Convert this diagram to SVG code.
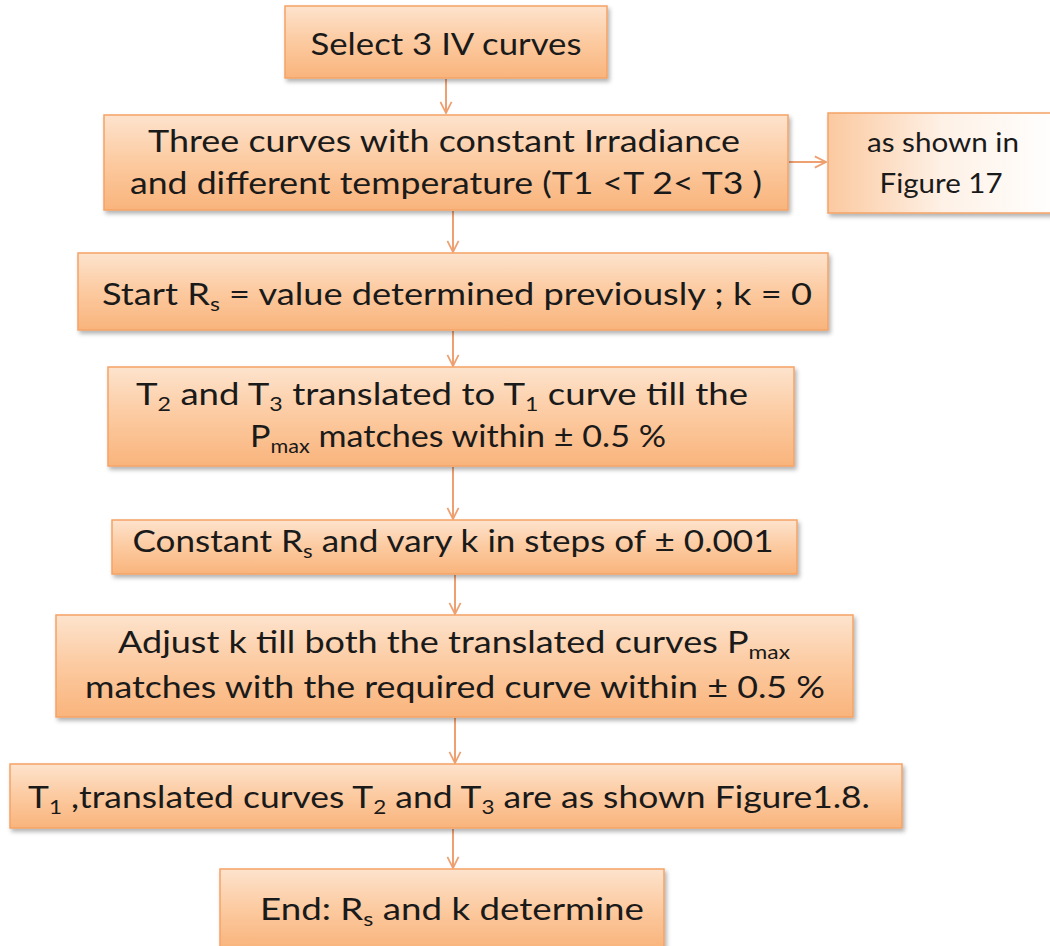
<svg xmlns="http://www.w3.org/2000/svg" width="1050" height="946" viewBox="0 0 1050 946">
<style>
.box{fill:url(#g);stroke:#f5a366;stroke-width:1.5;filter:url(#sh)}
.side{fill:url(#g2);stroke:#f5a366;stroke-width:1.5;filter:url(#sh)}
.t{font-family:Lato,"Open Sans",sans-serif;font-size:30px;fill:#1a1a1a;text-anchor:middle}
.s{font-size:19px}
.c{stroke:#eea070;stroke-width:2;fill:none;marker-end:url(#ah)}
</style>
<defs>
<linearGradient id="g" x1="0" y1="0" x2="0" y2="1">
<stop offset="0" stop-color="#fde3cd"/>
<stop offset="0.5" stop-color="#fccaa0"/>
<stop offset="1" stop-color="#f9b47c"/>
</linearGradient>
<linearGradient id="g2" x1="0" y1="0" x2="1" y2="0">
<stop offset="0" stop-color="#fbc9a0"/>
<stop offset="0.5" stop-color="#fef1e6"/>
<stop offset="1" stop-color="#ffffff"/>
</linearGradient>
<filter id="sh" x="-5%" y="-10%" width="115%" height="130%">
<feDropShadow dx="2" dy="3" stdDeviation="2" flood-color="#000" flood-opacity="0.3"/>
</filter>
<marker id="ah" viewBox="0 0 20 20" refX="18" refY="10" markerWidth="14" markerHeight="14" markerUnits="userSpaceOnUse" orient="auto">
<path d="M2,2 L18,10 L2,18" fill="none" stroke="#eea070" stroke-width="2.5"/>
</marker>
</defs>
<g id="connectors">
<path class="c" d="M446,79 V113"/>
<path class="c" d="M453,211 V252"/>
<path class="c" d="M453,331 V366"/>
<path class="c" d="M453,467 V519"/>
<path class="c" d="M455,575 V614"/>
<path class="c" d="M455,718 V763"/>
<path class="c" d="M453,829 V868"/>
<path class="c" d="M789,162 H826"/>
</g>
<g id="n1"><rect class="box" x="285" y="6" width="322" height="72"/>
<text class="t" x="446" y="55" textLength="271" lengthAdjust="spacingAndGlyphs">Select 3 IV curves</text></g>
<g id="n2"><rect class="box" x="104" y="115" width="684" height="95"/>
<text class="t" x="444" y="152" textLength="592" lengthAdjust="spacingAndGlyphs">Three curves with constant Irradiance</text>
<text class="t" x="446" y="194" textLength="632" lengthAdjust="spacingAndGlyphs">and different temperature (T1 &lt;T 2&lt; T3 )</text></g>
<g id="n3"><rect class="side" x="828" y="113" width="230" height="100"/>
<text class="t" x="943" y="152" style="font-size:26px" textLength="152" lengthAdjust="spacingAndGlyphs">as shown in</text>
<text class="t" x="941" y="193" style="font-size:26px" textLength="123" lengthAdjust="spacingAndGlyphs">Figure 17</text></g>
<g id="n4"><rect class="box" x="78" y="253" width="750" height="77"/>
<text class="t" x="457" y="305" textLength="710" lengthAdjust="spacingAndGlyphs">Start R<tspan class="s" dy="6">s</tspan><tspan dy="-6"> = value determined previously ; k = 0</tspan></text></g>
<g id="n5"><rect class="box" x="108" y="367" width="686" height="99"/>
<text class="t" x="442" y="405" textLength="612" lengthAdjust="spacingAndGlyphs">T<tspan class="s" dy="6">2</tspan><tspan dy="-6"> and T</tspan><tspan class="s" dy="6">3</tspan><tspan dy="-6"> translated to T</tspan><tspan class="s" dy="6">1</tspan><tspan dy="-6"> curve till the</tspan></text>
<text class="t" x="458" y="447" textLength="416" lengthAdjust="spacingAndGlyphs">P<tspan class="s" dy="6">max</tspan><tspan dy="-6"> matches within ± 0.5 %</tspan></text></g>
<g id="n6"><rect class="box" x="112" y="520" width="685" height="54"/>
<text class="t" x="453" y="552" textLength="641" lengthAdjust="spacingAndGlyphs">Constant R<tspan class="s" dy="6">s</tspan><tspan dy="-6"> and vary k in steps of ± 0.001</tspan></text></g>
<g id="n7"><rect class="box" x="56" y="615" width="797" height="102"/>
<text class="t" x="454" y="653" textLength="672" lengthAdjust="spacingAndGlyphs">Adjust k till both the translated curves P<tspan class="s" dy="6">max</tspan></text>
<text class="t" x="455" y="698" textLength="740" lengthAdjust="spacingAndGlyphs">matches with the required curve within ± 0.5 %</text></g>
<g id="n8"><rect class="box" x="10" y="764" width="892" height="64"/>
<text class="t" x="449" y="808" textLength="842" lengthAdjust="spacingAndGlyphs">T<tspan class="s" dy="6">1</tspan><tspan dy="-6"> ,translated curves T</tspan><tspan class="s" dy="6">2</tspan><tspan dy="-6"> and T</tspan><tspan class="s" dy="6">3</tspan><tspan dy="-6"> are as shown Figure1.8.</tspan></text></g>
<g id="n9"><rect class="box" x="220" y="869" width="444" height="80"/>
<text class="t" x="452" y="920" textLength="384" lengthAdjust="spacingAndGlyphs">End: R<tspan class="s" dy="6">s</tspan><tspan dy="-6">  and k determine</tspan></text></g>
</svg>
